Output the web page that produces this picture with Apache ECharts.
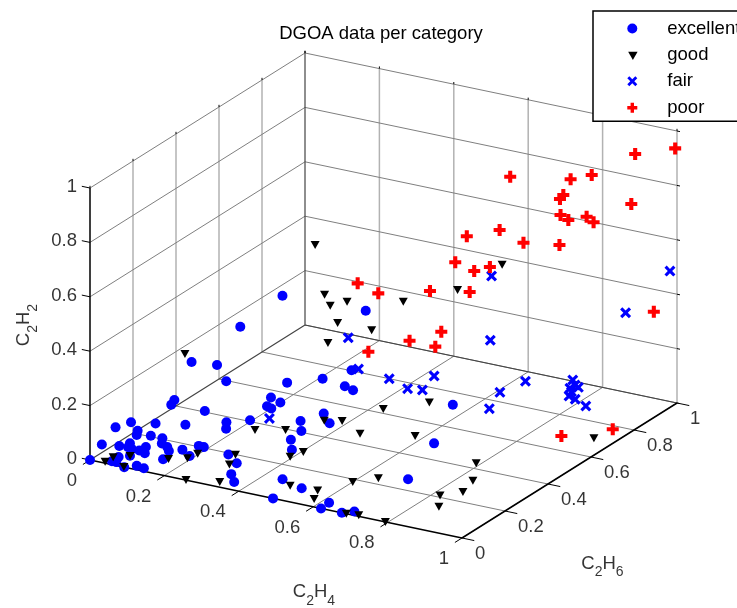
<!DOCTYPE html>
<html>
<head>
<meta charset="utf-8">
<script src="https://cdn.jsdelivr.net/npm/echarts@6/dist/echarts.min.js"></script>
<style>html,body{margin:0;padding:0;background:#fff}#c{width:737px;height:608px}</style>
</head>
<body>
<div id="c"></div>
<script>
const chartTitle = 'DGOA data per category';
const categories = ['excellent', 'good', 'fair', 'poor'];
const tickValues = [0, 0.2, 0.4, 0.6, 0.8, 1];
const tickLabels = ['0', '0.2', '0.4', '0.6', '0.8', '1'];
const axisNames = { x: ['C', '2', 'H', '4'], y: ['C', '2', 'H', '6'], z: ['C', '2', 'H', '2'] };

// [C2H4, C2H6, C2H2]; depth is an estimate.
const excellent = [[.166,.608,.35],[.137,.462,.3],[.295,.772,.25],[.065,.36,.2],[.082,.449,.15],[.109,.445,.1],[.149,.659,0],[.208,.722,0],[.239,.803,0],[.277,.706,0],[.306,.694,0],[.164,.558,0],[.184,.505,0],[.199,.541,0],[.2,.497,0],[.322,.53,0],[.365,.483,0],[.299,.462,0],[.333,.407,0],[.554,.729,0],[.64,.493,0],[.703,.263,0],[.517,.09,0],[.619,.041,0],[.621,0,0],[.677,0,0],[.698,.022,0],[.492,0,0],[.45,.117,0],[.34,.346,0],[.374,.292,0],[.195,.407,0],[.154,.368,0],[.174,.332,0],[.074,.406,0],[.021,.356,.05],[.03,.326,.05],[.079,.307,0],[.015,.279,0],[.049,.106,.1],[.034,.06,.1],[.018,.024,.05],[0,0,0],[.002,.218,0],[.014,.193,0],[.045,.205,0],[.014,.112,0],[.027,.139,0],[.036,.115,0],[.049,.11,0],[.071,.137,0],[.069,.11,0],[.089,.101,0],[.076,.205,0],[.092,.175,0],[.114,.162,0],[.13,.142,0],[.153,.165,0],[.174,.205,0],[.188,.204,0],[.188,.138,0],[.145,.089,0],[.048,.05,0],[.048,.019,0],[.06,.019,0],[.067,.07,0],[.092,0,0],[.113,.022,0],[.135,.017,0],[.261,.192,0],[.306,.153,0],[.33,.086,0],[.361,.046,0]];
const good = [[.2,.701,.5],[.204,.738,.3],[.272,.725,.3],[.251,.683,.3],[.385,.791,.3],[.234,.747,.2],[.326,.746,.2],[.235,.7,.15],[.553,.96,.4],[.457,.919,.3],[.946,.707,0],[.499,.715,0],[.427,.625,0],[.346,.491,0],[.383,.51,0],[.46,.46,0],[.578,.512,0],[.404,.293,0],[.789,.431,0],[.838,.331,0],[.854,.257,0],[.819,.211,0],[.853,.147,0],[.64,.234,0],[.6,.184,0],[.557,.095,0],[.577,.044,0],[.689,0,0],[.719,.006,0],[.794,0,0],[.486,.09,0],[.393,.251,0],[.236,.359,0],[.298,.394,0],[.113,.246,.3],[.276,.199,0],[.295,.138,0],[.197,.16,0],[.191,.123,0],[.155,.097,0],[.258,0,0],[.332,.029,0],[.036,.008,0],[.038,.042,0],[.068,.069,0],[.091,0,0]];
const fair = [[.999,.969,.5],[.956,.837,.4],[.568,.885,.4],[.597,.829,.2],[.259,.753,.15],[.249,.818,0],[.342,.8,0],[.411,.766,0],[.445,.776,0],[.424,.867,0],[.228,.44,0],[.625,.944,0],[.609,.853,0],[.64,.75,0],[.725,.991,.01],[.737,.981,0],[.751,.972,0],[.737,.957,0],[.751,.94,0],[.76,.913,0],[.783,.902,0],[.826,.877,0]];
const poor = [[.998,.995,.938],[.902,.975,.9],[.795,.958,.8],[.766,.91,.8],[.636,.854,.8],[.758,.89,.75],[.764,.864,.75],[.924,.919,.75],[.773,.851,.7],[.805,.832,.7],[.831,.872,.7],[.863,.849,.7],[.611,.848,.6],[.565,.775,.6],[.7,.805,.6],[.78,.834,.6],[.538,.768,.5],[.604,.742,.5],[.623,.782,.5],[.575,.771,.4],[.492,.73,.4],[.966,.951,.35],[.471,.819,.2],[.463,.805,.15],[.278,.764,.35],[.308,.808,.3],[.301,.774,.1],[.392,.808,.15],[.955,.779,0],[.873,.682,0]];

// Orthographic view used by the 3-D box, mapped onto two hidden value axes.
function project(x, y, z) {
  return [90 + 372 * x + 215 * y, 460 + 78 * x - 135 * y - 272 * z];
}
function segments(list) {
  const out = [];
  list.forEach(function (s) {
    out.push(project.apply(null, s[0]), project.apply(null, s[1]), [null, null]);
  });
  return out;
}
const inner = tickValues.slice(1);
const thin = [], verts = [], ticks = [], caps = [];
inner.forEach(function (t) {
  thin.push([[t, 0, 0], [t, 1, 0]]);
  thin.push([[0, t, 0], [1, t, 0]]);
  thin.push([[0, 1, t], [1, 1, t]]);
  thin.push([[0, 0, t], [0, 1, t]]);
  verts.push([[t, 1, 0], [t, 1, 1]]);
  if (t < 1) verts.push([[0, t, 0], [0, t, 1]]);
});
tickValues.forEach(function (t) {
  ticks.push([[t, 0, 0], [t, -0.033, 0]]);
  ticks.push([[1, t, 0], [1.033, t, 0]]);
  ticks.push([[0, 0, t], [-0.022, 0, t]]);
  caps.push([[t, 1, 1], [t, 1, 1.008]]);
  caps.push([[0, t, 1], [0, t, 1.008]]);
  caps.push([[1, 1, t], [1.008, 1, t]]);
});
const edges = [[[0, 0, 0], [0, 1, 0]], [[0, 1, 0], [1, 1, 0]], [[0, 1, 0], [0, 1, 1]]];
const axes = [[[0, 0, 0], [1, 0, 0]], [[1, 0, 0], [1, 1, 0]], [[0, 0, 0], [0, 0, 1]]];

function lineSeries(list, color, width) {
  return { type: 'line', data: segments(list), symbol: 'none', silent: true, connectNulls: false,
    lineStyle: { color: color, width: width }, z: 1, animation: false };
}
const font = 'Liberation Sans, Arial, sans-serif';
const txt = '#000000';
function tickSeries(points, align, dx, dy) {
  return { type: 'scatter', symbolSize: 0, silent: true, z: 3, animation: false,
    data: points.map(function (p, i) { return { value: project.apply(null, p), name: tickLabels[i] }; }),
    label: { show: true, formatter: '{b}', position: [dx, dy], align: align, verticalAlign: 'middle',
      fontFamily: font, fontSize: 18.5, color: txt } };
}
function nameSeries(parts, at, dx, dy, rotate) {
  return { type: 'scatter', symbolSize: 0, silent: true, z: 3, animation: false,
    data: [{ value: project.apply(null, at), name: 'n' }],
    label: { show: true, position: [dx, dy], align: 'center', verticalAlign: 'middle', rotate: rotate || 0,
      formatter: '{b|' + parts[0] + '}{s|' + parts[1] + '}{b|' + parts[2] + '}{s|' + parts[3] + '}',
      rich: { b: { fontFamily: font, fontSize: 18.5, color: txt, lineHeight: 32 },
              s: { fontFamily: font, fontSize: 14, color: txt, lineHeight: 32, verticalAlign: 'bottom' } } } };
}
const triangle = 'path://M0,0L8,0L4,7Z';
const triangleIcon = 'path://M0,0L0,0M1,1.5L9,1.5L5,8.5Z';
const xMark = 'path://M2,0L5,3L8,0L10,2L7,5L10,8L8,10L5,7L2,10L0,8L3,5L0,2Z';
const plusMark = 'path://M3.3,0H6.7V3.3H10V6.7H6.7V10H3.3V6.7H0V3.3H3.3Z';

function pointSeries(name, values, symbol, size, color, z) {
  return { type: 'scatter', name: name, symbol: symbol, symbolSize: size, z: z, animation: false, silent: true,
    itemStyle: { color: color, opacity: 1 },
    data: values.map(function (v) { return project(v[0], v[1], v[2]); }) };
}
const option = {
  animation: false,
  backgroundColor: '#fff',
  title: { text: chartTitle, left: 381, top: 24, textAlign: 'center', padding: 0,
    textStyle: { fontFamily: font, fontSize: 18.5, fontWeight: 'normal', color: txt } },
  grid: { left: 0, right: 0, top: 0, bottom: 0 },
  xAxis: { type: 'value', min: 0, max: 737, show: false },
  yAxis: { type: 'value', min: 0, max: 608, inverse: true, show: false },
  legend: {
    left: 593, top: 11, orient: 'vertical', selectedMode: false, backgroundColor: '#fff',
    borderColor: '#000', borderWidth: 1.5, borderRadius: 0, padding: [8, 120, 4, 34],
    itemWidth: 60, itemHeight: 10, itemGap: 7.4,
    textStyle: { fontFamily: font, fontSize: 18.5, color: txt, lineHeight: 18 },
    data: [
      { name: categories[0], icon: 'circle' },
      { name: categories[1], icon: triangleIcon },
      { name: categories[2], icon: xMark },
      { name: categories[3], icon: plusMark }
    ]
  },
  series: [
    lineSeries(verts, '#b2b2b2', 1.5),
    lineSeries(thin, '#7f7f7f', 1),
    lineSeries(edges, '#444444', 1.2),
    lineSeries(caps, '#000000', 1),
    lineSeries(axes, '#000000', 1.5),
    lineSeries(ticks, '#000000', 1),
    tickSeries(tickValues.map(function (t) { return [t, 0, 0]; }), 'right', -13, 21),
    tickSeries(tickValues.map(function (t) { return [1, t, 0]; }), 'left', 13, 15.5),
    tickSeries(tickValues.map(function (t) { return [0, 0, t]; }), 'right', -13, -1),
    nameSeries(axisNames.x, [0.5, 0, 0], 38, 93),
    nameSeries(axisNames.y, [1, 0.5, 0], 33, 93),
    nameSeries(axisNames.z, [0, 0, 0.5], -66, 1, 90),
    pointSeries(categories[0], excellent, 'circle', 10, '#0000ff', 4),
    pointSeries(categories[1], good, triangle, [9, 8], '#000000', 5),
    pointSeries(categories[2], fair, xMark, 11, '#0000ff', 6),
    pointSeries(categories[3], poor, plusMark, 12, '#ff0000', 7)
  ]
};
const chart = echarts.init(document.getElementById('c'), null, { renderer: 'canvas' });
chart.setOption(option);
</script>
</body>
</html>
